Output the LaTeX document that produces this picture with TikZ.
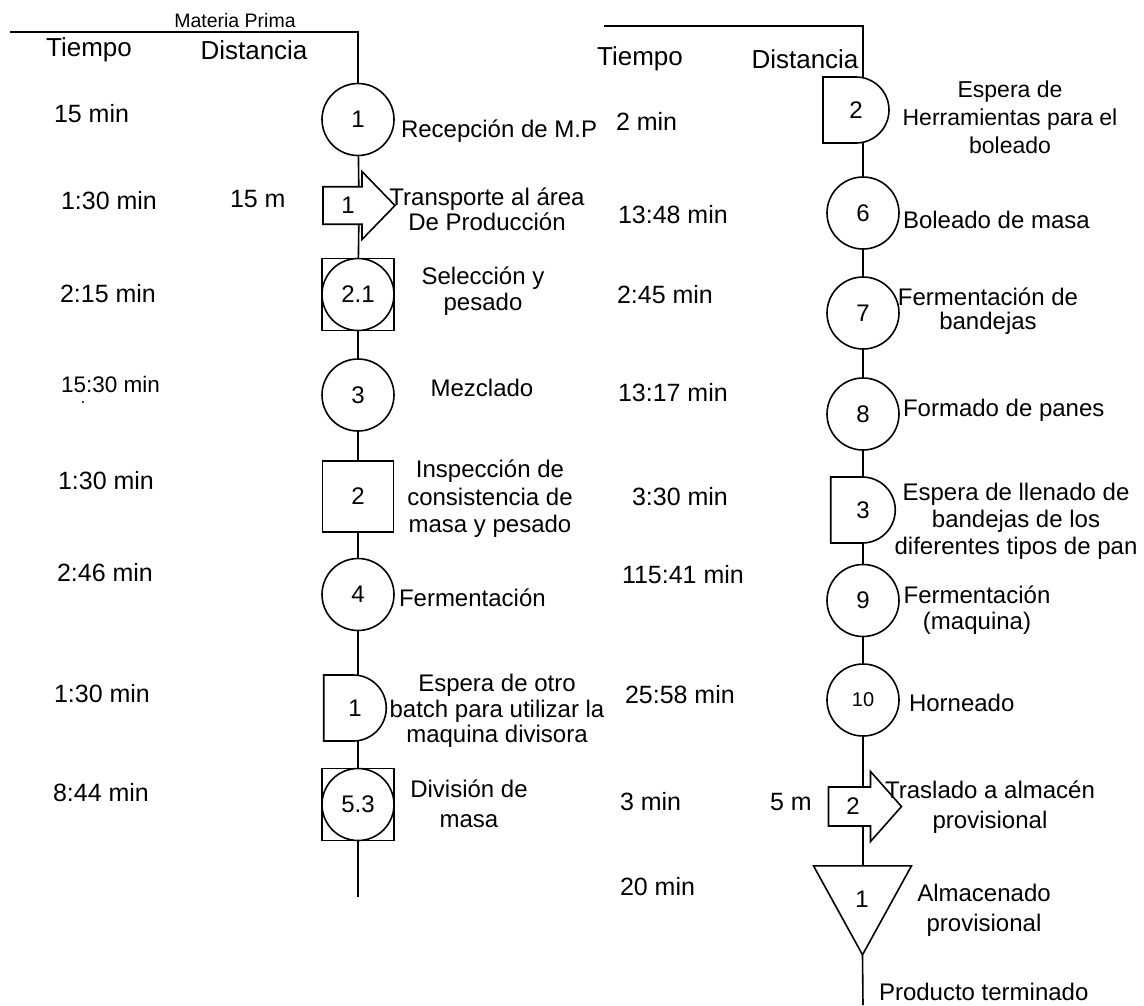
\documentclass[tikz,border=0pt]{standalone}
\usepackage{fontspec}
\setmainfont{Liberation Sans}
\begin{document}
\begin{tikzpicture}[x=1pt,y=-1pt,
  every node/.style={font=\fontsize{24}{27}\selectfont, inner sep=0pt, outer sep=0pt},
  flow/.style={line width=1.6pt},
  outline/.style={line width=1.6pt},
  hdr/.style={font=\fontsize{26}{30}\selectfont},
  tim/.style={anchor=west, font=\fontsize{25}{28}\selectfont},
  lbl/.style={align=center},
  opcirc/.style={circle, draw, line width=1.6pt, minimum size=72pt},
  inspbox/.style={rectangle, draw, line width=1.6pt, minimum size=72pt},
  dbox/.style={rectangle, minimum width=#1, minimum height=66pt},
  mvbox/.style={rectangle, minimum width=72pt, minimum height=#1},
  stbox/.style={rectangle, minimum width=98pt, minimum height=89pt}
]
\newcommand\waitD[2]{\draw[outline] (#1.north west) -- ([xshift=-#2]#1.north east) arc[start angle=90,end angle=-90,radius=#2] -- (#1.south west) -- cycle;}
\newcommand\moveArrow[3]{\draw[outline] (#1.north west) -- ([xshift=#2]#1.north west) -- ([xshift=#2,yshift=#3]#1.west) -- (#1.east) -- ([xshift=#2,yshift=-#3]#1.west) -- ([xshift=#2]#1.south west) -- (#1.south west) -- cycle;}
\useasboundingbox (0,0) rectangle (1144,1005);

% ---------- left column ----------
\node[font=\fontsize{19.5}{22}\selectfont] (mp) at (235,21) {Materia Prima};
\node[hdr] (tiempoL) at (89,50) {Tiempo};
\node[hdr] (distL) at (254,50) {Distancia};
\coordinate (tl) at (10,32);
\coordinate (tc) at (358,32);

\node[opcirc] (c1) at (358,119.5) {1};
\node[mvbox=37.5pt, label={[xshift=-11pt]center:1}] (a1) at (359,205.5) {};
\moveArrow{a1}{39pt}{34pt}
\node[inspbox] (s21) at (358,294.5) {2.1};
\draw[outline] (s21.center) circle[radius=36pt];
\node[opcirc] (c3) at (358,395) {3};
\node[inspbox, minimum size=71pt] (s2) at (358,496.5) {2};
\node[opcirc] (c4) at (358,594.5) {4};
\node[dbox=62.5pt] (d1) at (355,708) {1};
\waitD{d1}{33pt}
\node[inspbox] (s53) at (358,804.5) {5.3};
\draw[outline] (s53.center) circle[radius=36pt];
\coordinate (e1) at (358,897);

\draw[flow] (tl) -- (tc) -- (c1);
\draw[flow] (c1) -- (a1);
\draw[flow] (a1) -- (s21);
\draw[flow] (s21) -- (c3);
\draw[flow] (c3) -- (s2);
\draw[flow] (s2) -- (c4);
\draw[flow] (c4) -- (c4 |- d1.north);
\draw[flow] (d1.south -| s53) -- (s53);
\draw[flow] (s53) -- (e1);

% left times
\node[tim] (tl1) at (54,114) {15 min};
\node[tim] (tl2) at (61,201) {1:30 min};
\node[tim] (dl2) at (230,199) {15 m};
\node[tim] (tl3) at (60,294) {2:15 min};
\node[tim, font=\fontsize{22.5}{26}\selectfont] (tl4) at (61,384) {15:30 min};
\fill (83,402) circle[radius=1.2pt];
\node[tim] (tl5) at (58,481) {1:30 min};
\node[tim] (tl6) at (57,573) {2:46 min};
\node[tim] (tl7) at (54,694) {1:30 min};
\node[tim] (tl8) at (53,793) {8:44 min};

% left labels
\node[anchor=west] (ll1) at (401,131) {Recepción de M.P};
\node[lbl, font=\fontsize{24}{25}\selectfont] (ll2) at (487,209) {Transporte al área\\De Producción};
\node[lbl, font=\fontsize{24}{26}\selectfont] (ll3) at (483,291) {Selección y\\pesado};
\node[lbl] (ll4) at (482,388) {Mezclado};
\node[lbl, font=\fontsize{24}{27.5}\selectfont] (ll5) at (490,499) {Inspección de\\consistencia de\\masa y pesado};
\node[anchor=west] (ll6) at (399,598) {Fermentación};
\node[lbl, font=\fontsize{24}{25.5}\selectfont] (ll7) at (497,711) {Espera de otro\\batch para utilizar la\\maquina divisora};
\node[lbl, font=\fontsize{24}{29.5}\selectfont] (ll8) at (469,804) {División de\\masa};

% ---------- right column ----------
\node[hdr] (tiempoR) at (640,59) {Tiempo};
\node[hdr] (distR) at (805,59) {Distancia};
\coordinate (tr) at (604,26);
\coordinate (tcr) at (863,26);

\node[dbox=66pt] (d2) at (856,110) {2};
\waitD{d2}{33pt}
\node[opcirc] (c6) at (863,213) {6};
\node[opcirc] (c7) at (863,313) {7};
\node[opcirc] (c8) at (863,414) {8};
\node[dbox=64.5pt] (d3) at (863,510) {3};
\waitD{d3}{33pt}
\node[opcirc] (c9) at (863,600.5) {9};
\node[opcirc, font=\fontsize{20}{22}\selectfont] (c10) at (863,700) {10};
\node[mvbox=39pt, minimum width=73pt, label={[xshift=-12pt]center:2}] (a2) at (865,806.5) {};
\moveArrow{a2}{42pt}{35pt}
\node[stbox] (t1) at (862.5,910.3) {};
\draw[outline] (t1.north west) -- (t1.north east) -- (t1.south) -- cycle;
\node (t1n) at (862,899) {1};
\coordinate (er) at (863,1005);

\draw[flow] (tr) -- (tcr) -- (tcr |- d2.north);
\draw[flow] (d2.south -| c6) -- (c6);
\draw[flow] (c6) -- (c7);
\draw[flow] (c7) -- (c8);
\draw[flow] (c8) -- (d3);
\draw[flow] (d3) -- (c9);
\draw[flow] (c9) -- (c10);
\draw[flow] (c10) -- (c10 |- a2.north);
\draw[flow] (a2.south -| c10) -- (c10 |- t1.north);
\draw[flow] (t1.south) -- (er);

% right times
\node[tim] (tr1) at (616,121) {2 min};
\node[tim] (tr2) at (618,214.5) {13:48 min};
\node[tim] (tr3) at (617,295) {2:45 min};
\node[tim] (tr4) at (618,393) {13:17 min};
\node[tim] (tr5) at (632,497) {3:30 min};
\node[tim] (tr6) at (622,575) {115:41 min};
\node[tim] (tr7) at (625,695) {25:58 min};
\node[tim] (tr8) at (620,802) {3 min};
\node[tim] (dr8) at (770,802) {5 m};
\node[tim] (tr9) at (620,887) {20 min};

% right labels
\node[lbl, font=\fontsize{23}{28}\selectfont] (rl1) at (1010,117) {Espera de\\Herramientas para el\\boleado};
\node[anchor=west] (rl2) at (903,220) {Boleado de masa};
\node[lbl, font=\fontsize{24}{24}\selectfont] (rl3) at (988,311) {Fermentación de\\bandejas};
\node[anchor=west] (rl4) at (903,410) {Formado de panes};
\node[lbl, font=\fontsize{24}{27}\selectfont] (rl5) at (1016,521) {Espera de llenado de\\bandejas de los\\diferentes tipos de pan};
\node[lbl, font=\fontsize{24}{26.5}\selectfont] (rl6) at (977,610) {Fermentación\\(maquina)};
\node[anchor=west] (rl7) at (909,703) {Horneado};
\node[lbl, font=\fontsize{24}{30}\selectfont] (rl8) at (990,807) {Traslado a almacén\\provisional};
\node[lbl, font=\fontsize{24}{30}\selectfont] (rl9) at (984,910) {Almacenado\\provisional};
\node[anchor=west] (rl10) at (879,992) {Producto terminado};
\end{tikzpicture}
\end{document}
